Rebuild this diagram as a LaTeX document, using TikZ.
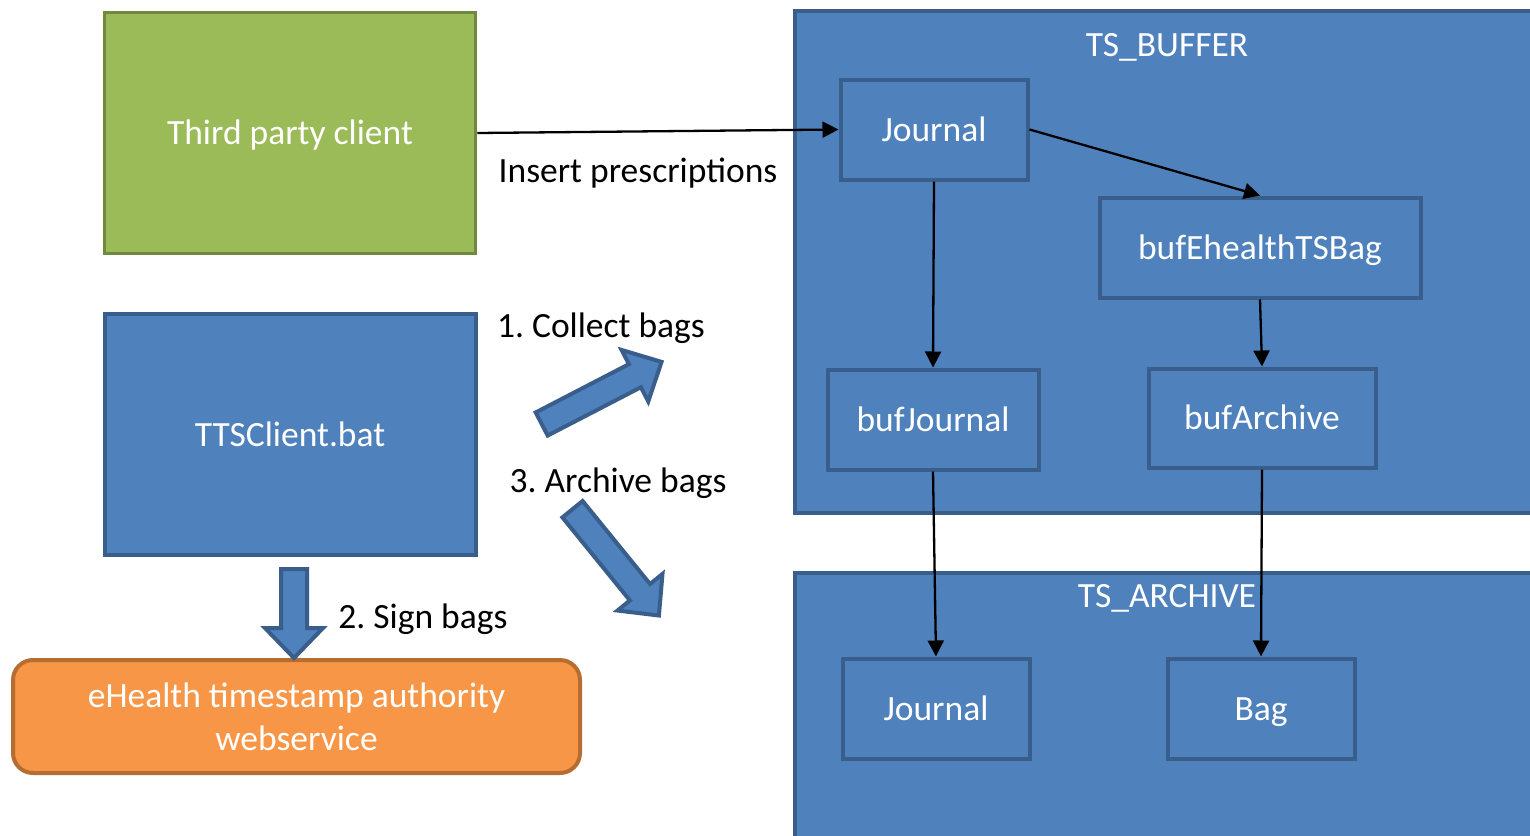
\documentclass[tikz,border=0pt]{standalone}
\usepackage{fontspec}
\setmainfont{Carlito}
\frenchspacing
\usetikzlibrary{arrows.meta}
\definecolor{bfill}{HTML}{4F81BD}
\definecolor{bline}{HTML}{3A5E8C}
\definecolor{gfill}{HTML}{9BBB59}
\definecolor{gline}{HTML}{71893F}
\definecolor{ofill}{HTML}{F79646}
\definecolor{oline}{HTML}{B66D31}
\tikzset{
  fixtxt/.style={text height=31pt, text depth=8pt},
  box/.style={draw=bline, fill=bfill, line width=4pt, text=white, inner sep=0pt, fixtxt},
  cont/.style={draw=bline, fill=bfill, line width=4pt, inner sep=0pt, anchor=north west},
  lbl/.style={text=black, inner sep=0pt, fixtxt},
  ttl/.style={text=white, inner sep=0pt, fixtxt},
  conn/.style={draw=black, line width=2.3pt, -{Triangle[length=16pt,width=16pt]}},
  blockarr/.style={draw=bline, fill=bfill, line width=4pt},
}
\begin{document}
\begin{tikzpicture}[x=1pt,y=-1pt]
\clip (0,0) rectangle (1530,835);
\fill[white] (0,0) rectangle (1530,835);
\begin{scope}[font=\fontsize{35.5}{43}\selectfont]
% containers
\node[cont, minimum width=780pt, minimum height=502pt] (tsbuf) at (793,9) {};
\node[cont, minimum width=780pt, minimum height=300pt] (tsarc) at (793,571) {};
\node[ttl] (tsbuft) at (1167,45) {TS\_BUFFER};
\node[ttl] (tsarct) at (1167,596) {TS\_ARCHIVE};
% left boxes
\node[box, draw=gline, fill=gfill, line width=3.5pt, minimum width=371pt, minimum height=241pt] (tpc) at (290,133) {Third party client};
\node[box, minimum width=371pt, minimum height=241pt] (tts) at (290,434.5) {TTSClient.bat};
\node[draw=oline, fill=ofill, line width=4pt, text=white, inner sep=0pt, rounded corners=20pt, minimum width=567pt, minimum height=113pt, align=center] (eh) at (296.5,716.5) {eHealth timestamp authority\\webservice};
% inner boxes
\node[box, minimum width=187pt, minimum height=100pt] (j1) at (934,129.5) {Journal};
\node[box, minimum width=321pt, minimum height=100pt] (bufe) at (1260,247.5) {bufEhealthTSBag};
\node[box, minimum width=211pt, minimum height=100pt] (bufj) at (933,419.5) {bufJournal};
\node[box, minimum width=227pt, minimum height=99pt] (bufa) at (1262,418) {bufArchive};
\node[box, minimum width=187pt, minimum height=100pt] (j2) at (936,708.5) {Journal};
\node[box, minimum width=187pt, minimum height=100pt] (bag) at (1261,708.5) {Bag};
% labels
\node[lbl] (l0) at (638,170.5) {Insert prescriptions};
\node[lbl] (l1) at (601,325.5) {1. Collect bags};
\node[lbl] (l3) at (618,480.5) {3. Archive bags};
\node[lbl] (l2) at (423,616.5) {2. Sign bags};
\end{scope}
% connectors
\draw[conn] (tpc.east) -- (j1.west);
\draw[conn] (j1.east) -- (bufe.north);
\draw[conn] (j1.south) -- (bufj.north);
\draw[conn] (bufe.south) -- (bufa.north);
\draw[conn] (bufj.south) -- (j2.north);
\draw[conn] (bufa.south) -- (bag.north);
% block arrows
\begin{scope}[shift={(541.7,424)}, rotate=27.4]
\draw[blockarr] (0,-13) -- (105,-13) -- (105,-29) -- (135,0) -- (105,29) -- (105,13) -- (0,13) -- cycle;
\end{scope}
\begin{scope}[shift={(572.5,509.2)}, rotate=-50.9]
\draw[blockarr] (0,-13) -- (107,-13) -- (107,-29) -- (137,0) -- (107,29) -- (107,13) -- (0,13) -- cycle;
\end{scope}
\begin{scope}[shift={(294,569)}, rotate=-90]
\draw[blockarr] (0,-13) -- (59,-13) -- (59,-29) -- (89,0) -- (59,29) -- (59,13) -- (0,13) -- cycle;
\end{scope}
\end{tikzpicture}
\end{document}
